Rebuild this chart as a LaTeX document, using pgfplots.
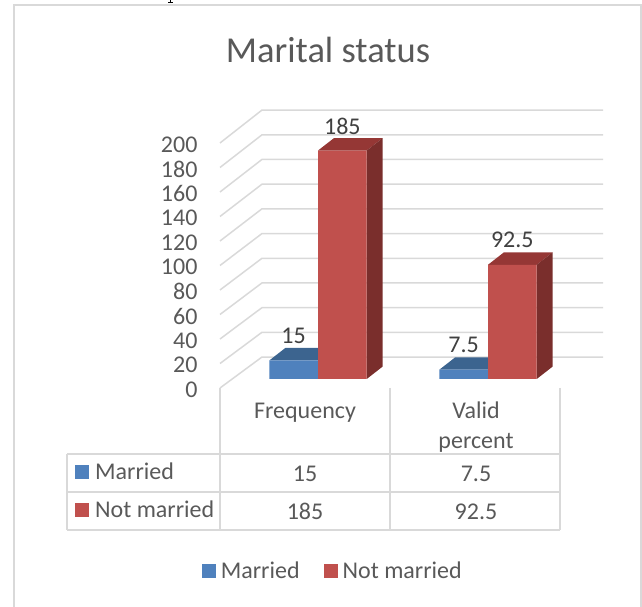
\documentclass[border=0pt]{standalone}
\usepackage{pgfplots}
\pgfplotsset{compat=1.18}
\usepackage{fontspec}
\setmainfont{Carlito}
\definecolor{gridc}{HTML}{D9D9D9}
\definecolor{textc}{HTML}{595959}
\definecolor{lab}{HTML}{404040}
\definecolor{blueF}{HTML}{4F81BD}
\definecolor{blueT}{HTML}{3C648F}
\definecolor{redF}{HTML}{C0504D}
\definecolor{redT}{HTML}{953735}
\definecolor{redS}{HTML}{7A2E2C}
\newcommand{\lbl}{\fontsize{24}{28}\selectfont\color{textc}}
\begin{document}
\begin{tikzpicture}[x=1pt,y=1pt]
\useasboundingbox (0,0) rectangle (642,607);
% outer frame
\draw[gridc,line width=1.5pt] (14,0) -- (14,602) -- (641,602) -- (641,0);
\fill[black] (169.5,607) rectangle (171,604);
\fill[black] (168,604.5) rectangle (173,603.5);
\begin{axis}[
  at={(220pt,219pt)},anchor=south west,
  scale only axis,width=383pt,height=245pt,
  xmin=220,xmax=603,ymin=0,ymax=200,clip=false,
  axis line style={draw=none},
  major tick length=0pt,
  xtick=\empty,
  ytick={0,20,...,200},
  tick label style={/pgf/number format/assume math mode=true},
  yticklabel style={font=\lbl,anchor=east,xshift=-19pt,yshift=-1.5pt},
  grid lines/.style={gridc,line width=1.5pt},
]
\addplot[grid lines] coordinates {(220,0)(262,25.3)(603,25.3)};
\addplot[grid lines] coordinates {(220,20)(262,45.5)(603,45.5)};
\addplot[grid lines] coordinates {(220,40)(262,65.6)(603,65.6)};
\addplot[grid lines] coordinates {(220,60)(262,85.8)(603,85.8)};
\addplot[grid lines] coordinates {(220,80)(262,105.9)(603,105.9)};
\addplot[grid lines] coordinates {(220,100)(262,126.1)(603,126.1)};
\addplot[grid lines] coordinates {(220,120)(262,146.3)(603,146.3)};
\addplot[grid lines] coordinates {(220,140)(262,166.4)(603,166.4)};
\addplot[grid lines] coordinates {(220,160)(262,186.6)(603,186.6)};
\addplot[grid lines] coordinates {(220,180)(262,206.7)(603,206.7)};
\addplot[grid lines] coordinates {(220,200)(262,226.9)(603,226.9)};
% data table rules
\addplot[grid lines] coordinates {(220,0)(220,-115.9)};
\addplot[grid lines] coordinates {(390,0)(390,-115.9)};
\addplot[grid lines] coordinates {(560,0)(560,-115.9)};
\addplot[grid lines] coordinates {(67,-53.9)(560,-53.9)};
\addplot[grid lines] coordinates {(67,-84.9)(560,-84.9)};
\addplot[grid lines] coordinates {(67,-115.9)(560,-115.9)};
\addplot[grid lines] coordinates {(67,-53.9)(67,-115.9)};
% swatches
\addplot[fill=blueF,draw=none] coordinates {(75,-62.9)(89,-62.9)(89,-74.3)(75,-74.3)} --cycle;
\addplot[fill=redF,draw=none] coordinates {(75,-93.9)(89,-93.9)(89,-105.3)(75,-105.3)} --cycle;
% table text
\node[font=\lbl,anchor=base] at (axis cs:305,-25.3) {Frequency};
\node[font=\lbl,anchor=base] at (axis cs:476,-25.3) {Valid};
\node[font=\lbl,anchor=base] at (axis cs:476,-49) {percent};
\node[font=\lbl,anchor=base] at (axis cs:305,-76.3) {15};
\node[font=\lbl,anchor=base] at (axis cs:476,-76.3) {7.5};
\node[font=\lbl,anchor=base] at (axis cs:305,-107.3) {185};
\node[font=\lbl,anchor=base] at (axis cs:476,-107.3) {92.5};
\node[font=\lbl,anchor=base west,inner sep=0pt] at (axis cs:95,-75) {Married};
\node[font=\lbl,anchor=base west,inner sep=0pt] at (axis cs:95,-106) {Not married};
% title
\node[font=\fontsize{36.5}{42}\selectfont\color{textc},anchor=center] at (axis cs:328,276) {Marital status};
\end{axis}
\begin{axis}[
  at={(220pt,219pt)},anchor=south west,
  scale only axis,width=383pt,height=245pt,
  xmin=-0.5765,xmax=1.6765,ymin=-7.29,ymax=191.1,clip=false,
  hide axis,
  ybar,
  bar width=48.7pt,
  /pgf/number format/assume math mode=true,
  legend style={draw=none,fill=none,at={(0.2945,-0.747)},anchor=center,
    legend columns=2,font=\lbl,
    /tikz/every odd column/.append style={column sep=3pt},
    /tikz/every even column/.append style={column sep=22pt}},
  legend image code/.code={\fill[#1,draw=none] (0pt,-7pt) rectangle (14pt,7pt);},
  every node near coord/.append style={font=\fontsize{24}{28}\selectfont\color{lab},anchor=center,yshift=24.5pt},
]
% top faces of Married bars
\addplot[forget plot,sharp plot,fill=blueT,draw=none] coordinates {(-0.2865,15)(0,15)(0.0941,25.1)(-0.1924,25.1)} --cycle;
\addplot[forget plot,sharp plot,fill=blueT,draw=none] coordinates {(0.7135,7.5)(1,7.5)(1.0941,17.6)(0.8076,17.6)} --cycle;
\addplot[bar shift=-24.35pt,fill=blueF,draw=none,nodes near coords] coordinates {(0,15)(1,7.5)};
\addlegendentry{Married}
% top and side faces of Not married bars
\addplot[forget plot,sharp plot,fill=redT,draw=none] coordinates {(0,185)(0.2865,185)(0.3806,195.1)(0.0941,195.1)} --cycle;
\addplot[forget plot,sharp plot,fill=redT,draw=none] coordinates {(1,92.5)(1.2865,92.5)(1.3806,102.6)(1.0941,102.6)} --cycle;
\addplot[forget plot,sharp plot,fill=redS,draw=none] coordinates {(0.2865,0)(0.3806,10.1)(0.3806,195.1)(0.2865,185)} --cycle;
\addplot[forget plot,sharp plot,fill=redS,draw=none] coordinates {(1.2865,0)(1.3806,10.1)(1.3806,102.6)(1.2865,92.5)} --cycle;
\addplot[bar shift=24.35pt,fill=redF,draw=none,nodes near coords] coordinates {(0,185)(1,92.5)};
\addlegendentry{Not married}
\end{axis}
\end{tikzpicture}
\end{document}
